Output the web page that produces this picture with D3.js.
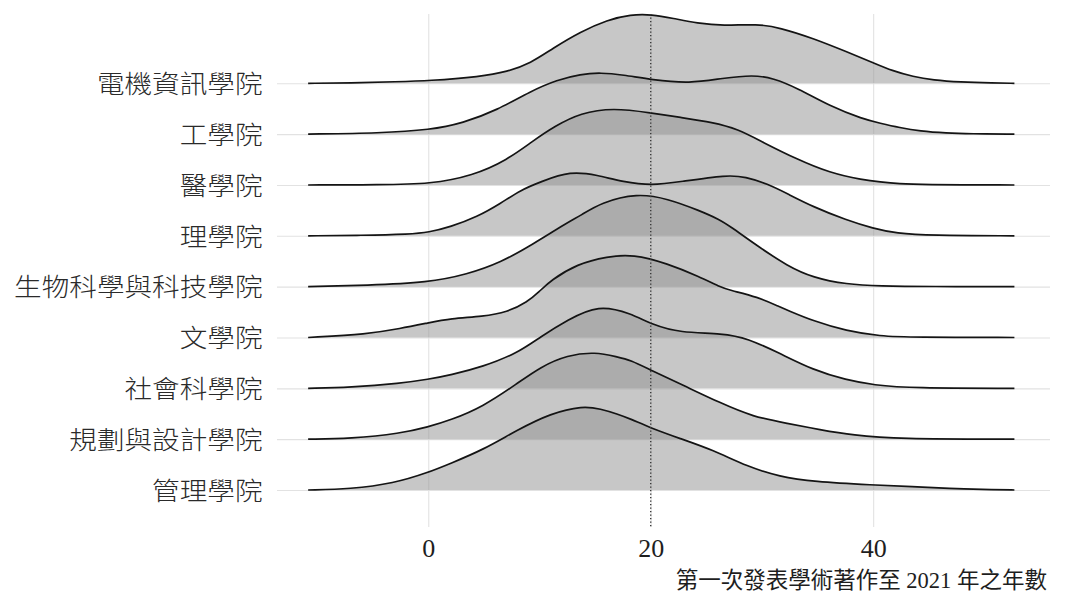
<!DOCTYPE html>
<html>
<head>
<meta charset="utf-8">
<script src="https://cdn.jsdelivr.net/npm/d3@7"></script>
<style>
  html, body { margin: 0; padding: 0; background: #fff; }
  svg { display: block; }
</style>
</head>
<body>
<svg id="chart" width="1071" height="591"></svg>
<script>
// Colleges, top row first
const colleges = ["電機資訊學院", "工學院", "醫學院", "理學院", "生物科學與科技學院",
                  "文學院", "社會科學院", "規劃與設計學院", "管理學院"];
const xTicks = [0, 20, 40];
const markerYear = 20;
const xTitle = "第一次發表學術著作至 2021 年之年數";

// Estimated density of years since first publication, per college: [years, density]
const ridgeEECS = [[-10.8,0],[-7.0,0.0003],[-2.8,0.0016],[0,0.0025],[4.7,0.0066],[7.1,0.0116],[9.2,0.020],[11.2,0.035],[13.7,0.0516],[16.1,0.0633],[18.2,0.0688],[20.1,0.0688],[22.0,0.065],[24.2,0.060],[26.5,0.0574],[29.6,0.0594],[31.6,0.0556],[34.6,0.045],[37.6,0.0316],[40.0,0.0206],[41.7,0.0126],[43.6,0.0066],[45.4,0.0033],[47.8,0.0013],[50.8,0.0003],[52.7,0]];
const ridgeEngineering = [[-10.8,0],[-4.3,0.001],[0.2,0.0043],[3.1,0.011],[6.2,0.024],[9.2,0.043],[11.6,0.0543],[13.7,0.060],[15.5,0.0615],[17.5,0.0593],[20.1,0.0543],[23.5,0.0505],[26.5,0.056],[29.2,0.0592],[31.0,0.056],[33.2,0.046],[36.1,0.028],[39.1,0.015],[40.6,0.011],[42.4,0.0065],[44.2,0.003],[46.6,0.001],[48.7,0.0003],[52.7,0]];
const ridgeMedicine = [[-10.8,0],[-4.3,0.0002],[0.2,0.001],[4.0,0.0093],[7.1,0.025],[9.4,0.044],[11.4,0.059],[13.7,0.072],[16.6,0.0772],[20.1,0.072],[22.6,0.0676],[25.6,0.0626],[27.8,0.056],[30.1,0.0426],[33.1,0.026],[36.1,0.012],[39.1,0.005],[40.6,0.003],[42.4,0.0012],[44.2,0.0003],[52.7,0]];
const ridgeScience = [[-10.8,0],[-6.0,0.0004],[-1.6,0.0017],[0,0.0034],[2.0,0.009],[4.4,0.019],[6.5,0.0324],[8.3,0.0457],[10.1,0.054],[12.8,0.0648],[15.2,0.0607],[17.5,0.054],[20.1,0.0502],[22.6,0.054],[26.9,0.061],[28.5,0.059],[30.5,0.052],[32.3,0.042],[34.6,0.029],[37.6,0.0157],[40.0,0.0074],[42.1,0.0024],[45.1,0.0003],[52.7,0]];
const ridgeBioSci = [[-10.8,0],[-5.5,0.0013],[0,0.004],[3.5,0.0123],[6.5,0.024],[9.4,0.0423],[12.5,0.064],[13.7,0.071],[15.5,0.084],[18.8,0.0935],[21.5,0.088],[24.4,0.076],[26.2,0.067],[27.1,0.0606],[29.6,0.0406],[32.3,0.0206],[34.6,0.009],[37.6,0.0023],[40.6,0.0006],[45.1,0.0001],[52.7,0]];
const ridgeLiberalArts = [[-10.8,0],[-5.5,0.0033],[-2.5,0.009],[0,0.0146],[2.0,0.019],[4.9,0.021],[7.1,0.0253],[8.9,0.0353],[10.0,0.046],[11.0,0.057],[13.4,0.0736],[16.1,0.081],[18.4,0.0832],[21.5,0.074],[24.4,0.0606],[26.2,0.0506],[27.1,0.0473],[29.6,0.0406],[31.6,0.0306],[32.3,0.0273],[34.6,0.0166],[37.6,0.0065],[40.6,0.0013],[43.6,0.0001],[52.7,0]];
const ridgeSocialSci = [[-10.8,0],[-7.0,0.001],[-2.5,0.005],[0,0.009],[2.0,0.0133],[4.9,0.0216],[8.0,0.035],[10.1,0.0516],[12.5,0.0683],[15.3,0.0838],[18.2,0.075],[20.2,0.0633],[22.6,0.0556],[26.5,0.055],[28.7,0.050],[31.6,0.035],[34.6,0.0183],[37.6,0.0083],[40.0,0.0033],[43.6,0.0001],[52.7,0]];
const ridgePlanning = [[-10.8,0],[-7.0,0.0006],[-2.5,0.0056],[0,0.0123],[2.0,0.019],[4.9,0.0323],[8.0,0.0556],[10.1,0.0723],[12.5,0.084],[15.0,0.0872],[17.0,0.0823],[18.2,0.079],[20.0,0.069],[22.9,0.054],[26.2,0.0365],[29.2,0.0223],[32.3,0.0157],[35.2,0.0095],[38.2,0.004],[42.1,0.0001],[52.7,0]];
const ridgeManagement = [[-10.8,0],[-7.0,0.001],[-3.1,0.0066],[0,0.0175],[2.0,0.0266],[4.9,0.040],[8.0,0.060],[11.0,0.0766],[13.9,0.0842],[15.5,0.081],[17.0,0.076],[18.2,0.071],[20.0,0.062],[22.6,0.0516],[25.6,0.040],[28.7,0.0233],[31.6,0.0133],[34.6,0.0083],[40.0,0.005],[43.6,0.0033],[46.6,0.0016],[51.1,0.0002],[52.7,0]];

const ridgeSeries = [ridgeEECS, ridgeEngineering, ridgeMedicine, ridgeScience, ridgeBioSci,
                     ridgeLiberalArts, ridgeSocialSci, ridgePlanning, ridgeManagement];

const svg = d3.select("#chart");
const panel = { left: 277, right: 1050, top: 14, bottom: 527 };

const x = d3.scaleLinear().domain([-13.6, 55.9]).range([panel.left, panel.right]);
const y = d3.scalePoint().domain(colleges).range([83.3, 490]);
const rowStep = y.step();
const maxDensity = d3.max(ridgeSeries.flat(), d => d[1]);
const heightScale = d3.scaleLinear().domain([0, maxDensity]).range([0, rowStep * 1.84]);

// Vertical grid + tick labels
const xAxis = svg.append("g")
  .attr("transform", `translate(0,${panel.bottom})`)
  .call(d3.axisBottom(x).tickValues(xTicks).tickFormat(d3.format("d"))
        .tickSize(-(panel.bottom - panel.top)));
xAxis.select(".domain").remove();
xAxis.selectAll(".tick line").attr("stroke", "#e2e2e2").attr("stroke-width", 1.1);
xAxis.selectAll(".tick text")
  .attr("y", 30).attr("dy", 0)
  .attr("fill", "#1e1e1e")
  .style("font-family", "'Liberation Serif', 'Times New Roman', serif")
  .style("font-size", "26px");

// Horizontal grid + college labels
const yAxis = svg.append("g")
  .attr("transform", `translate(${panel.left},0)`)
  .call(d3.axisLeft(y).tickSize(-(panel.right - panel.left)).tickPadding(16));
yAxis.select(".domain").remove();
yAxis.selectAll(".tick line").attr("stroke", "#e2e2e2").attr("stroke-width", 1.1);
const charPitch = 27.6;
yAxis.selectAll(".tick text")
  .attr("text-anchor", "start")
  .attr("x", d => 262.5 - panel.left - d.length * charPitch)
  .attr("dy", "0.36em")
  .attr("textLength", d => d.length * charPitch)
  .attr("lengthAdjust", "spacingAndGlyphs")
  .attr("fill", "#2a2a2a")
  .style("font-family", "'Noto Sans CJK TC', 'Noto Sans CJK SC', sans-serif")
  .style("font-weight", 300)
  .style("font-size", "25.5px");

// Ridges, drawn top to bottom so lower rows overlap upper ones
const smooth = d3.curveBasis;
const ridgesG = svg.append("g");
colleges.forEach((name, i) => {
  const base = y(name);
  const pts = ridgeSeries[i];
  const area = d3.area()
    .x(d => x(d[0]))
    .y0(base)
    .y1(d => base - heightScale(d[1]))
    .curve(smooth);
  const line = d3.line()
    .x(d => x(d[0]))
    .y(d => base - heightScale(d[1]))
    .curve(smooth);
  const g = ridgesG.append("g");
  g.append("path").attr("d", area(pts))
    .attr("fill", "rgb(148,148,148)").attr("fill-opacity", 0.52);
  g.append("path").attr("d", line(pts))
    .attr("fill", "none").attr("stroke", "#141414").attr("stroke-width", 1.7)
    .attr("stroke-linejoin", "round");
});

// Dotted marker line
svg.append("line")
  .attr("x1", x(markerYear)).attr("x2", x(markerYear))
  .attr("y1", panel.top).attr("y2", panel.bottom)
  .attr("stroke", "#3a3a3a").attr("stroke-width", 1.4)
  .attr("stroke-dasharray", "1.3,2.2");

// Axis title
svg.append("text")
  .attr("x", 1047).attr("y", 587.5)
  .attr("text-anchor", "end")
  .attr("fill", "#1e1e1e")
  .style("font-family", "'Liberation Serif', 'Noto Sans CJK TC', serif")
  .style("font-size", "22.5px")
  .text(xTitle);
</script>
</body>
</html>
